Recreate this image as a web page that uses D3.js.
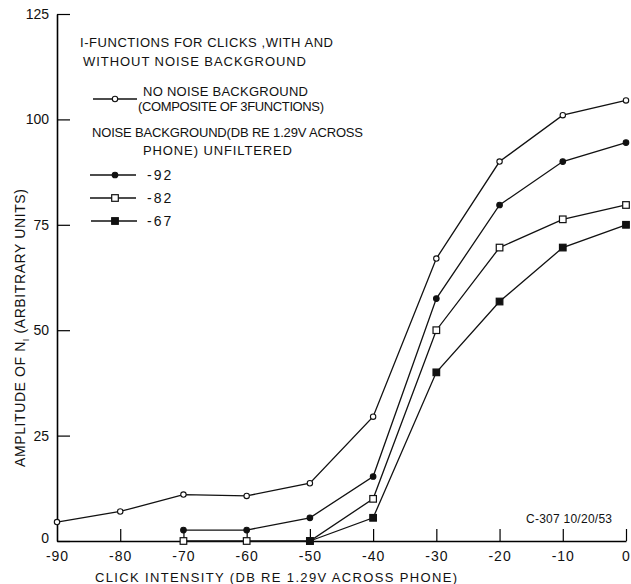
<!DOCTYPE html>
<html>
<head>
<meta charset="utf-8">
<script src="https://cdn.jsdelivr.net/npm/d3@7"></script>
<style>
  body { margin: 0; background: #fff; }
  text { font-family: "Liberation Sans", sans-serif; fill: #111; }
</style>
</head>
<body>
<svg width="631" height="584"></svg>
<script>
// click intensity, dB re 1.29 V across phone
const noNoiseX = [-90, -80, -70, -60, -50, -40, -30, -20, -10, 0]
const noNoiseY = [4.5, 7, 11, 10.7, 13.7, 29.5, 67, 90, 101, 104.5]

const n92X = [-70, -60, -50, -40, -30, -20, -10, 0]
const n92Y = [2.6, 2.6, 5.5, 15.3, 57.5, 79.7, 90, 94.5]

const n82X = [-70, -60, -50, -40, -30, -20, -10, 0]
const n82Y = [0, 0, 0, 10, 50, 69.6, 76.3, 79.7]

const n67X = [-50, -40, -30, -20, -10, 0]
const n67Y = [0, 5.5, 40, 56.8, 69.6, 75]

const xTicks = [-90, -80, -70, -60, -50, -40, -30, -20, -10, 0]
const yTicks = [0, 25, 50, 75, 100, 125]

const svg = d3.select('svg')

const x = d3.scaleLinear().domain([-90, 0]).range([57, 626])
const y = d3.scaleLinear().domain([0, 125]).range([541, 14])

// axes
const yAxis = svg.append('g')
  .attr('transform', 'translate(' + x(-90) + ',0)')
  .call(d3.axisLeft(y)
    .tickValues(yTicks)
    .tickSize(-13)
    .tickSizeOuter(0)
    .tickPadding(8)
    .tickFormat(d => d))
yAxis.select('.domain').attr('stroke-width', 1.6)
yAxis.selectAll('.tick line').attr('stroke-width', 1.2)
yAxis.selectAll('text').style('font-size', '14px').attr('fill', '#111')
yAxis.selectAll('.tick').filter(d => d === 0).select('text').attr('dy', '0.1em')

const xAxis = svg.append('g')
  .attr('transform', 'translate(0,' + y(0) + ')')
  .call(d3.axisBottom(x)
    .tickValues(xTicks)
    .tickSize(-12)
    .tickSizeOuter(0)
    .tickPadding(10)
    .tickFormat(d => d === 0 ? '0' : '-' + Math.abs(d)))
xAxis.select('.domain').attr('stroke-width', 1.6)
xAxis.selectAll('.tick line').attr('stroke-width', 1.2)
xAxis.selectAll('.tick').filter(d => d === -90).select('line').remove()
xAxis.selectAll('text').style('font-size', '14px').attr('fill', '#111').attr('letter-spacing', '1px')

// axis titles
svg.append('text')
  .attr('x', 95).attr('y', 582)
  .attr('textLength', 362)
  .style('font-size', '13px')
  .text('CLICK INTENSITY (DB RE 1.29V ACROSS PHONE)')

const yt = svg.append('text')
  .attr('transform', 'translate(25,467) rotate(-90)')
  .style('font-size', '14px')
  .attr('letter-spacing', '0.6px')
yt.append('tspan').text('AMPLITUDE OF N')
yt.append('tspan').attr('dy', 4).style('font-size', '9px').text('I')
yt.append('tspan').attr('dy', -4).text(' (ARBITRARY UNITS)')

// series
const line = d3.line()

function drawSeries(xs, ys, marker) {
  const pts = xs.map((v, i) => [x(v), y(ys[i])])
  svg.append('path')
    .attr('d', line(pts))
    .attr('fill', 'none')
    .attr('stroke', '#111')
    .attr('stroke-width', 1.3)
  drawMarkers(pts, marker)
}

function drawMarkers(pts, marker) {
  const g = svg.append('g')
  pts.forEach(p => {
    if (marker === 'openCircle' || marker === 'dot') {
      g.append('circle')
        .attr('cx', p[0]).attr('cy', p[1])
        .attr('r', marker === 'dot' ? 2.8 : 2.7)
        .attr('fill', marker === 'dot' ? '#111' : '#fff')
        .attr('stroke', '#111').attr('stroke-width', 1.1)
    } else {
      g.append('rect')
        .attr('x', p[0] - 3.3).attr('y', p[1] - 3.3)
        .attr('width', 6.6).attr('height', 6.6)
        .attr('fill', marker === 'fillSquare' ? '#111' : '#fff')
        .attr('stroke', '#111').attr('stroke-width', 1.2)
    }
  })
}

drawSeries(n82X, n82Y, 'openSquare')
drawSeries(n67X, n67Y, 'fillSquare')
drawSeries(n92X, n92Y, 'dot')
drawSeries(noNoiseX, noNoiseY, 'openCircle')

// legend
const legend = [
  {x1: 93, x2: 137, y: 99, m: 'openCircle'},
  {x1: 90, x2: 136, y: 175, m: 'dot', label: '-92'},
  {x1: 90, x2: 136, y: 198, m: 'openSquare', label: '-82'},
  {x1: 91, x2: 137, y: 221, m: 'fillSquare', label: '-67'}
]
legend.forEach(d => {
  svg.append('line')
    .attr('x1', d.x1).attr('x2', d.x2).attr('y1', d.y).attr('y2', d.y)
    .attr('stroke', '#111').attr('stroke-width', 1.3)
  drawMarkers([[115, d.y]], d.m)
  if (d.label) {
    svg.append('text')
      .attr('x', 147).attr('y', d.y + 5)
      .attr('letter-spacing', '2px')
      .style('font-size', '14px')
      .text(d.label)
  }
})

const notes = [
  {t: 'I-FUNCTIONS FOR CLICKS ,WITH AND', x: 80, y: 47, w: 253},
  {t: 'WITHOUT NOISE BACKGROUND', x: 83, y: 66, w: 223},
  {t: 'NO NOISE BACKGROUND', x: 143, y: 96, w: 165},
  {t: '(COMPOSITE OF 3FUNCTIONS)', x: 138, y: 111, w: 186},
  {t: 'NOISE BACKGROUND(DB RE 1.29V ACROSS', x: 92, y: 137, w: 271},
  {t: 'PHONE) UNFILTERED', x: 143, y: 155, w: 149},
  {t: 'C-307  10/20/53', x: 526, y: 523, w: 86}
]
notes.forEach(d => {
  svg.append('text')
    .attr('x', d.x).attr('y', d.y)
    .attr('textLength', d.w)
    .style('font-size', d.t.startsWith('C-') ? '12px' : '13px')
    .text(d.t)
})
</script>
</body>
</html>
